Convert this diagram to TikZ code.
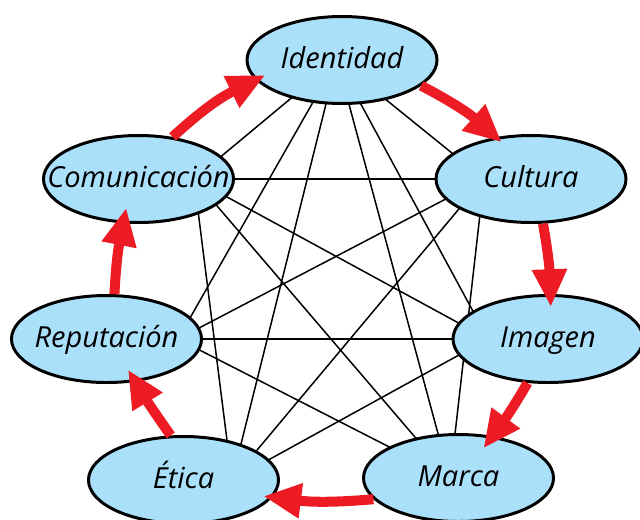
\documentclass[tikz,border=0pt]{standalone}
\usepackage{fontspec}
\setmainfont{Open Sans}
\usetikzlibrary{shapes.geometric,arrows.meta,backgrounds}
\definecolor{celeste}{RGB}{170,224,250}
\definecolor{rojo}{RGB}{237,28,36}
\newcommand{\rotulo}[1]{\makebox[0pt]{#1}}

\begin{document}
\begin{tikzpicture}[
	valor/.style={shape=ellipse, draw=black, line width=1.7pt, fill=celeste,
		minimum width=3.8cm, minimum height=1.74cm, inner sep=0pt,
		text height=11.5pt, text depth=2.3pt, font=\fontsize{16.5}{19}\selectfont\itshape},
	enlace/.style={-, line width=0.85pt},
	flecha/.style={-{Triangle[length=21.5pt,width=18.7pt]}, line width=5.7pt, draw=rojo}
	]
	\useasboundingbox (0, 0) rectangle (12.8, 10.38);
	
	\node[valor] (iden) at (6.84, 9.18)  {\rotulo{Identidad}};
	\node[valor] (comu) at (2.77, 6.80)  {\rotulo{Comunicación}};
	\node[valor] (cult) at (10.62, 6.80) {\rotulo{Cultura}};
	\node[valor] (repu) at (2.13, 3.60)  {\rotulo{Reputación}};
	\node[valor] (imag) at (10.96, 3.60) {\rotulo{Imagen}};
	\node[valor] (etic) at (3.67, 0.78)  {\rotulo{Ética}};
	\node[valor] (marc) at (9.17, 0.82)  {\rotulo{Marca}};
	
	% puntos de union de las lineas, tapados por las elipses
	\coordinate (iden') at ([xshift=-0.10cm]iden.center);
	\coordinate (comu') at ([xshift=1.11cm]comu.center);
	\coordinate (cult') at ([xshift=-0.94cm]cult.center);
	\coordinate (repu') at ([xshift=1.43cm]repu.center);
	\coordinate (imag') at ([xshift=-1.20cm]imag.center);
	\coordinate (etic') at ([xshift=0.97cm]etic.center);
	\coordinate (marc') at ([xshift=-0.17cm]marc.center);
	
	\begin{pgfonlayer}{background}
	\path[enlace] (iden') edge (comu');
	\path[enlace] (iden') edge (cult');
	\path[enlace] (iden') edge (repu');
	\path[enlace] (iden') edge (imag');
	\path[enlace] (iden') edge (etic');
	\path[enlace] (iden') edge (marc');
	\path[enlace] (comu') edge (cult');
	\path[enlace] (comu') edge (imag');
	\path[enlace] (comu') edge (etic');
	\path[enlace] (comu') edge (marc');
	\path[enlace] (cult') edge (repu');
	\path[enlace] (cult') edge (etic');
	\path[enlace] (cult') edge (marc');
	\path[enlace] (repu') edge (imag');
	\path[enlace] (repu') edge (marc');
	\path[enlace] (imag') edge (etic');
	\end{pgfonlayer}
	
	% ciclo de flechas rojas
	\draw[flecha, shorten >=-4.5pt] (iden.-18) to[bend left=7] (cult.130);
	\draw[flecha, shorten >=-7.4pt] (cult.-75) to[bend left=4] (imag.87);
	\draw[flecha, shorten >=-8.8pt] (imag.-115) to[bend left=3] (marc.51);
	\draw[flecha, shorten >=-5.3pt] (marc.194) to[bend left=6] (etic.-11);
	\draw[flecha, shorten >=-8.2pt] (etic.106) to[bend left=2] (repu.-56);
	\draw[flecha, shorten >=-9.1pt] (repu.80) to[bend left=4] (comu.251);
	\draw[flecha, shorten >=-6.2pt] (comu.51) to[bend left=8] (iden.193);
	
\end{tikzpicture}
\end{document}
